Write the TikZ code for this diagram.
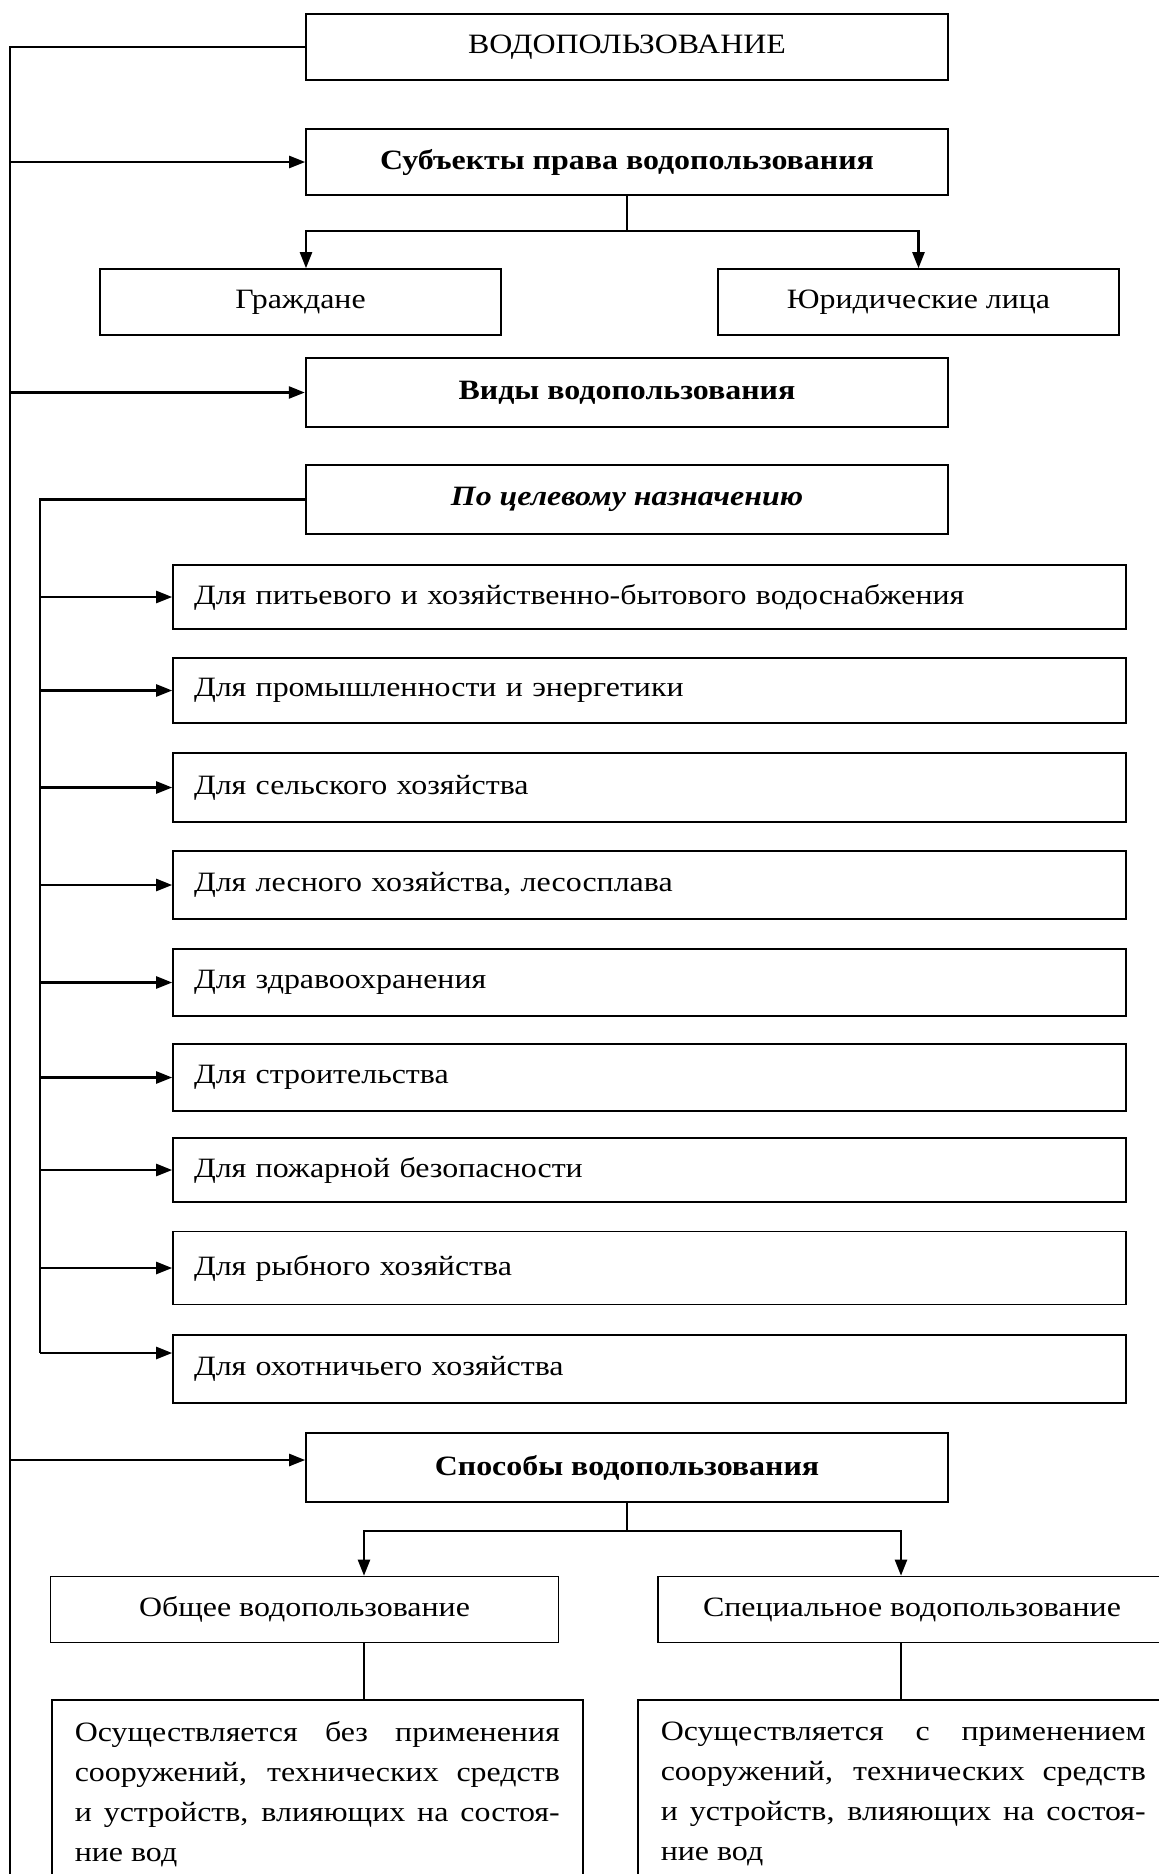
\documentclass[tikz,border=0pt]{standalone}
\usepackage{fontspec}
\setmainfont{Liberation Serif}[FakeStretch=1.14]
\usetikzlibrary{arrows.meta}
\tikzstyle{box} = [rectangle, draw, line width=0.8pt, minimum height=33pt, text centered, font=\fontsize{14}{17}\selectfont]
\tikzstyle{headbox} = [box, minimum width=321pt]
\tikzstyle{subbox} = [box, minimum width=200.5pt]
\tikzstyle{purpose} = [box, text width=455.5pt, inner xsep=10.5pt, align=left]
\tikzstyle{waybox} = [box, minimum width=254pt]
\tikzstyle{descr} = [rectangle, draw, line width=0.8pt, anchor=north west, text width=242.5pt, inner xsep=11.5pt, inner ysep=11pt, align=justify, font=\fontsize{14}{20}\selectfont]
\tikzstyle{line} = [line width=1.2pt]
\tikzstyle{arrow} = [line width=1.2pt, -{Triangle[length=8pt, width=6pt]}]

\begin{document}
\begin{tikzpicture}[x=0.5pt, y=-0.5pt]
        \useasboundingbox (0,0) rectangle (1158,1874);
        \node [headbox, minimum height=33pt] at (627,47) (top) {ВОДОПОЛЬЗОВАНИЕ};
        \node [headbox, font=\fontsize{14}{17}\selectfont\bfseries] at (627,162) (subj) {Субъекты права водопользования};
        \node [subbox] at (300.5,302) (grazh) {Граждане};
        \node [subbox] at (918.5,302) (yur) {Юридические лица};
        \node [headbox, line width=1.2pt, minimum height=34.5pt, font=\fontsize{14}{17}\selectfont\bfseries] at (627,392.5) (vidy) {Виды водопользования};
        \node [headbox, minimum height=34.5pt, font=\fontsize{14}{17}\selectfont\bfseries\itshape] at (627,499.5) (tsel) {По целевому назначению};
        \node [purpose, minimum height=32pt] at (649.5,597) (p1) {Для питьевого и хозяйственно-бытового водоснабжения};
        \node [purpose, minimum height=32.5pt] at (649.5,690.5) (p2) {Для промышленности и энергетики};
        \node [purpose, minimum height=34.5pt] at (649.5,787.5) (p3) {Для сельского хозяйства};
        \node [purpose, minimum height=34pt] at (649.5,885) (p4) {Для лесного хозяйства, лесосплава};
        \node [purpose, minimum height=33.5pt] at (649.5,982.5) (p5) {Для здравоохранения};
        \node [purpose, minimum height=33.5pt] at (649.5,1077.5) (p6) {Для строительства};
        \node [purpose, minimum height=32pt] at (649.5,1170) (p7) {Для пожарной безопасности};
        \node [purpose, minimum height=36.5pt] at (649.5,1268) (p8) {Для рыбного хозяйства};
        \node [purpose, minimum height=34pt] at (649.5,1369) (p9) {Для охотничьего хозяйства};
        \node [headbox, minimum height=34.5pt, font=\fontsize{14}{17}\selectfont\bfseries] at (627,1467.5) (sposob) {Способы водопользования};
        \node [waybox] at (304.5,1609.5) (obsh) {Общее водопользование};
        \node [waybox] at (912,1609.5) (spec) {Специальное водопользование};
        \node [descr] at (51,1699) (descrL) {Осуществляется без применения\linebreak сооружений, технических средств\linebreak и устройств, влияющих на состоя-\linebreak ние вод};
        \node [descr] at (637,1699) (descrR) {Осуществляется с применением\linebreak сооружений, технических средств\linebreak и устройств, влияющих на состоя-\linebreak ние вод};
        \coordinate (spine) at (10,47);
        \coordinate (spineend) at (10,1890);
        \coordinate (inner) at (40,499.5);
        \draw [line] (top.west) -- (spine) -- (spineend);
        \draw [arrow] (spine |- subj.west) -- (subj.west);
        \draw [arrow] (spine |- vidy.west) -- (vidy.west);
        \draw [arrow] (spine |- 0,1460) -- (sposob.west |- 0,1460);
        \draw [arrow] (subj.south) -- ++(0,35) -| ([xshift=2.75pt]grazh.north);
        \draw [arrow] (subj.south) -- ++(0,35) -| (yur.north);
        \draw [line] (tsel.west) -- (inner) -- (inner |- 0,1353);
        \draw [arrow] (inner |- p1.west) -- (p1.west);
        \draw [arrow] (inner |- p2.west) -- (p2.west);
        \draw [arrow] (inner |- p3.west) -- (p3.west);
        \draw [arrow] (inner |- p4.west) -- (p4.west);
        \draw [arrow] (inner |- p5.west) -- (p5.west);
        \draw [arrow] (inner |- p6.west) -- (p6.west);
        \draw [arrow] (inner |- p7.west) -- (p7.west);
        \draw [arrow] (inner |- p8.west) -- (p8.west);
        \draw [arrow] (inner |- 0,1353) -- (p9.west |- 0,1353);
        \draw [arrow] (sposob.south) -- ++(0,28) -| ([xshift=29.75pt]obsh.north);
        \draw [arrow] (sposob.south) -- ++(0,28) -| ([xshift=-5.5pt]spec.north);
        \draw [line] ([xshift=29.75pt]obsh.south) -- ([xshift=29.75pt]obsh.south |- descrL.north);
        \draw [line] ([xshift=-5.5pt]spec.south) -- ([xshift=-5.5pt]spec.south |- descrR.north);
\end{tikzpicture}
\end{document}
